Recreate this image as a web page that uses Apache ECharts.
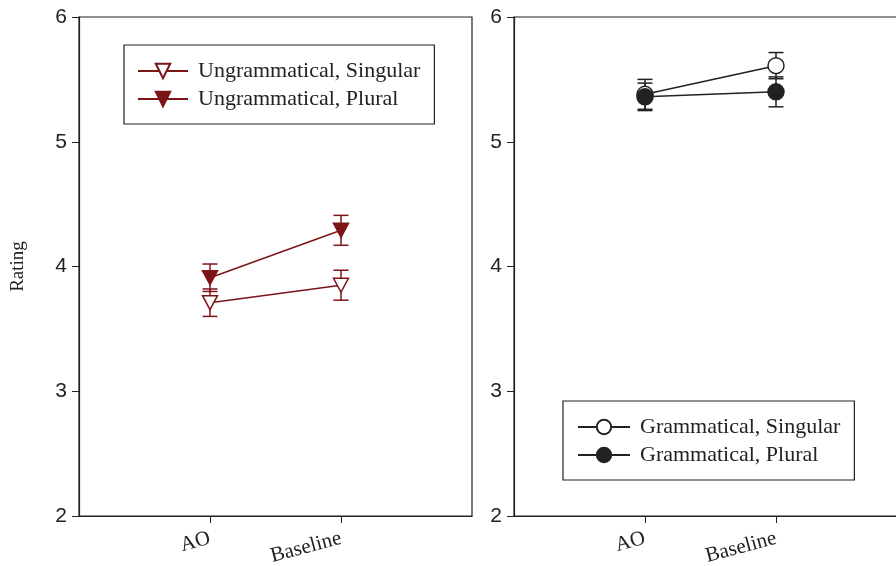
<!DOCTYPE html>
<html><head><meta charset="utf-8">
<script src="https://cdn.jsdelivr.net/npm/echarts@6/dist/echarts.min.js"></script>
<style>html,body{margin:0;padding:0;background:#fff}#c{width:896px;height:566px}</style>
</head><body><div id="c"></div>
<script>
var categories = ['', 'AO', 'Baseline', ''];
var conds = ['AO', 'Baseline'];
var yTicks = [2, 3, 4, 5, 6];
var ungSingular = [3.71, 3.85];
var ungSingularErr = [0.11, 0.12];
var ungPlural = [3.91, 4.29];
var ungPluralErr = [0.11, 0.12];
var gramSingular = [5.38, 5.61];
var gramSingularErr = [0.12, 0.105];
var gramPlural = [5.36, 5.40];
var gramPluralErr = [0.11, 0.12];

var RED = '#7c1518';
var BLK = '#222222';
var serif = 'Liberation Serif';
var sans = 'Liberation Sans';

function pts(vals){ return conds.map(function(c,i){ return [c, vals[i]]; }); }
function errPts(vals, errs){ return conds.map(function(c,i){ return [c, vals[i]-errs[i], vals[i]+errs[i]]; }); }

function errSeries(name, idx, vals, errs, color){
  return {
    type: 'custom', name: name + ' err', xAxisIndex: idx, yAxisIndex: idx, z: 1,
    silent: true, legendHoverLink: false,
    data: errPts(vals, errs),
    renderItem: function(params, api){
      var lo = api.coord([api.value(0), api.value(1)]);
      var hi = api.coord([api.value(0), api.value(2)]);
      var w = 7.5;
      var st = {stroke: color, lineWidth: 1.5};
      return {type: 'group', children: [
        {type: 'line', shape: {x1: lo[0], y1: lo[1], x2: hi[0], y2: hi[1]}, style: st},
        {type: 'line', shape: {x1: lo[0]-w, y1: lo[1], x2: lo[0]+w, y2: lo[1]}, style: st},
        {type: 'line', shape: {x1: hi[0]-w, y1: hi[1], x2: hi[0]+w, y2: hi[1]}, style: st}
      ]};
    }
  };
}

var triDown = 'path://M0,0 L10,0 L5,9 Z';

function lineSeries(name, idx, vals, color, symbol, size, filled){
  return {
    type: 'line', name: name, xAxisIndex: idx, yAxisIndex: idx, z: 3,
    data: pts(vals), symbol: symbol, symbolSize: size, showAllSymbol: true,
    lineStyle: {color: color, width: 1.5},
    itemStyle: {color: filled ? color : '#ffffff', borderColor: color, borderWidth: 1.5},
    emphasis: {disabled: true}, animation: false
  };
}

function xAxis(idx){
  return {
    type: 'category', gridIndex: idx, data: categories, boundaryGap: false,
    axisLine: {lineStyle: {color: BLK, width: 1.2}},
    axisTick: {show: true, length: 7, interval: function(i, v){ return v !== ''; }, lineStyle: {color: BLK}},
    axisLabel: {interval: function(i, v){ return v !== ''; }, rotate: 15, margin: 22,
      fontFamily: serif, fontSize: 21, color: BLK},
    splitLine: {show: false}
  };
}
function yAxis(idx, nameShow){
  return {
    type: 'value', gridIndex: idx, min: yTicks[0], max: yTicks[yTicks.length-1], interval: 1,
    axisLine: {show: true, lineStyle: {color: BLK, width: 1.2}},
    axisTick: {show: true, length: 7, lineStyle: {color: BLK}},
    axisLabel: {fontFamily: sans, fontSize: 21, color: BLK, margin: 12},
    splitLine: {show: false},
    name: nameShow ? 'Rating' : '', nameLocation: 'middle', nameGap: 51, nameRotate: 90,
    nameTextStyle: {fontFamily: serif, fontSize: 19, color: BLK}
  };
}

var chart = echarts.init(document.getElementById('c'), null, {renderer: 'canvas'});
chart.setOption({
  animation: false,
  backgroundColor: '#ffffff',
  grid: [
    {left: 79, top: 17, width: 393, height: 499, show: true, borderColor: BLK, borderWidth: 1.2, backgroundColor: 'transparent', outerBoundsMode: 'none', containLabel: false},
    {left: 514, top: 17, width: 393, height: 499, show: true, borderColor: BLK, borderWidth: 1.2, backgroundColor: 'transparent', outerBoundsMode: 'none', containLabel: false}
  ],
  xAxis: [xAxis(0), xAxis(1)],
  yAxis: [yAxis(0, true), yAxis(1, false)],
  legend: [
    {data: ['Ungrammatical, Singular', 'Ungrammatical, Plural'], orient: 'vertical',
     left: 124, top: 45, padding: [15, 14, 14, 13], itemGap: 6, itemWidth: 50, itemHeight: 18,
     borderColor: BLK, borderWidth: 1.2, backgroundColor: '#fff', selectedMode: false,
     textStyle: {fontFamily: serif, fontSize: 22, color: BLK, padding: [0, 0, 0, 5]}},
    {data: ['Grammatical, Singular', 'Grammatical, Plural'], orient: 'vertical',
     left: 563, top: 401, padding: [15, 14, 14, 14], itemGap: 6, itemWidth: 52, itemHeight: 18,
     borderColor: BLK, borderWidth: 1.2, backgroundColor: '#fff', selectedMode: false,
     textStyle: {fontFamily: serif, fontSize: 22, color: BLK, padding: [0, 0, 0, 5]}}
  ],
  series: [
    errSeries('Ungrammatical, Singular', 0, ungSingular, ungSingularErr, RED),
    errSeries('Ungrammatical, Plural', 0, ungPlural, ungPluralErr, RED),
    errSeries('Grammatical, Singular', 1, gramSingular, gramSingularErr, BLK),
    errSeries('Grammatical, Plural', 1, gramPlural, gramPluralErr, BLK),
    lineSeries('Ungrammatical, Singular', 0, ungSingular, RED, triDown, [15, 14], false),
    lineSeries('Ungrammatical, Plural', 0, ungPlural, RED, triDown, [15, 14], true),
    lineSeries('Grammatical, Singular', 1, gramSingular, BLK, 'circle', 16, false),
    lineSeries('Grammatical, Plural', 1, gramPlural, BLK, 'circle', 16, true)
  ]
});
</script></body></html>
